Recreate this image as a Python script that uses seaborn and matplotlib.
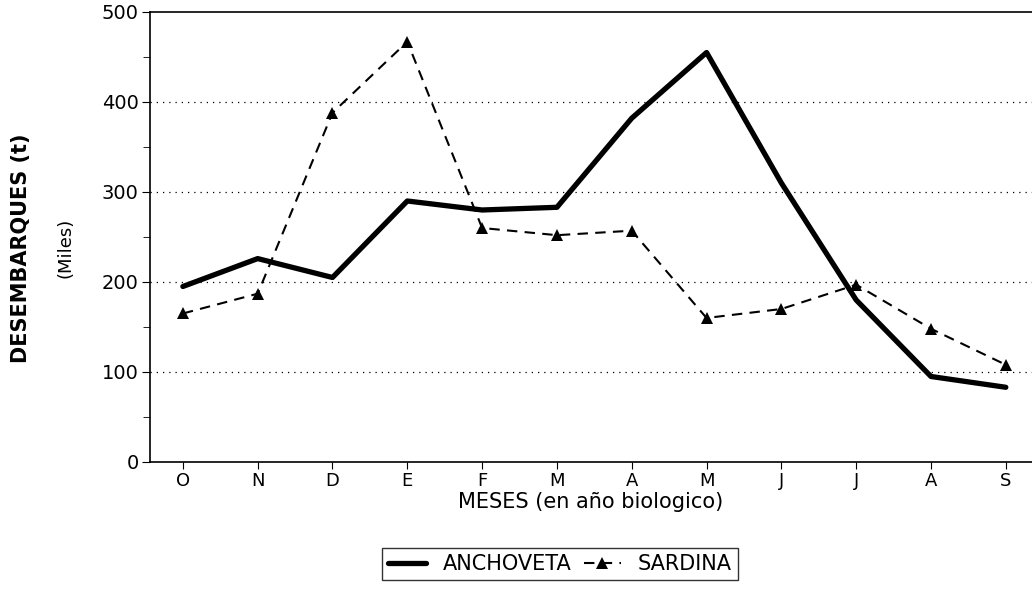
import numpy as np
import pandas as pd
import seaborn as sb
import matplotlib.pyplot as plt
from matplotlib.ticker import MultipleLocator

sb.set_style('ticks')
plt.rcParams['font.family'] = ['DejaVu Sans']
plt.rcParams['text.color'] = 'black'

# data (miles de t), year runs oct -> sep
meses = ['O', 'N', 'D', 'E', 'F', 'M', 'A', 'M', 'J', 'J', 'A', 'S']
anchoveta = [195, 226, 205, 290, 280, 283, 382, 455, 310, 180, 95, 83]
sardina = [165, 187, 388, 467, 260, 252, 257, 160, 170, 197, 148, 108]

df = pd.DataFrame({'pos': np.arange(len(meses)), 'anchoveta': anchoveta, 'sardina': sardina})

fig = plt.figure(figsize=(10.32, 5.91), dpi=100)
ax = fig.add_axes([0.1453, 0.2183, 0.8547, 0.7614])

sb.lineplot(x='pos', y='anchoveta', data=df, ax=ax, color='black', lw=3.8,
            label='ANCHOVETA')
sb.lineplot(x='pos', y='sardina', data=df, ax=ax, color='black', lw=1.5,
            linestyle=(0, (5, 3.5)), marker='^', markersize=8, markeredgewidth=0,
            label='SARDINA')

ax.set_xlim(-0.44, 11.35)
ax.set_ylim(0, 500)
ax.set_xticks(df['pos'])
ax.set_xticklabels(meses)
ax.yaxis.set_major_locator(MultipleLocator(100))
ax.yaxis.set_minor_locator(MultipleLocator(50))
ax.tick_params(axis='both', which='both', direction='out', colors='black', labelsize=14)
ax.tick_params(axis='y', which='major', length=6, pad=2)
ax.tick_params(axis='y', which='minor', length=5)
ax.tick_params(axis='x', length=5, labelsize=13, pad=2)

for v in [100, 200, 300, 400]:
    ax.axhline(v, color='black', lw=0.9, linestyle=(0, (1, 4)), zorder=0)

for s in ['left', 'bottom', 'top']:
    ax.spines[s].set_color('black')
    ax.spines[s].set_linewidth(1.2)
ax.spines['right'].set_visible(False)

ax.set_xlabel('MESES (en año biologico)', fontsize=15, labelpad=2, color='black')
ax.set_ylabel('')
fig.text(0.02, 0.58, 'DESEMBARQUES (t)', rotation=90, ha='center', va='center',
         fontsize=15, fontweight='bold', color='black')
fig.text(0.063, 0.58, '(Miles)', rotation=90, ha='center', va='center', fontsize=13,
         color='black')

ax.get_legend().remove()
h, l = ax.get_legend_handles_labels()
leg = fig.legend(h, l, loc='center', bbox_to_anchor=(560 / 1032, 1 - 564 / 591), ncol=2,
                 fontsize=15, frameon=True, fancybox=False, edgecolor='black',
                 handlelength=1.8, columnspacing=0.6, handletextpad=0.8, borderpad=0.3)
leg.get_frame().set_linewidth(1.0)
for t in leg.get_texts():
    t.set_color('black')

fig.savefig('out.png', dpi=100)
